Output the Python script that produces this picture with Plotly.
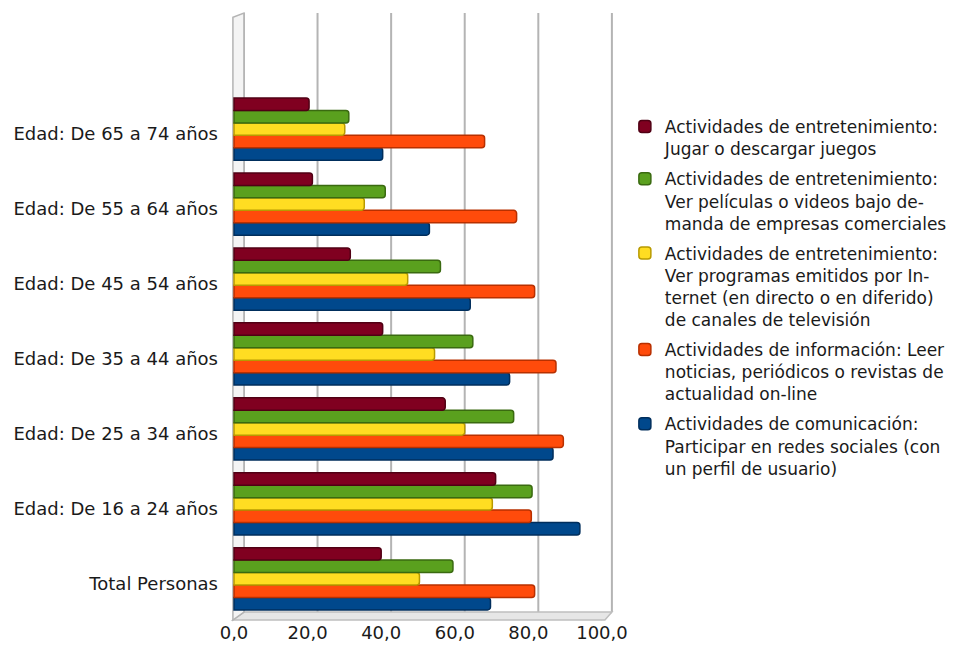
import plotly.graph_objects as go

categories = [
    "Total Personas",
    "Edad: De 16 a 24 años",
    "Edad: De 25 a 34 años",
    "Edad: De 35 a 44 años",
    "Edad: De 45 a 54 años",
    "Edad: De 55 a 64 años",
    "Edad: De 65 a 74 años",
]

juegos = [40.0, 71.1, 57.4, 40.4, 31.6, 21.3, 20.4]
peliculas = [59.5, 81.0, 76.0, 64.9, 56.1, 41.1, 31.2]
programas = [50.4, 70.2, 62.7, 54.5, 47.2, 35.4, 30.1]
informacion = [81.7, 80.8, 89.5, 87.5, 81.7, 76.8, 68.1]
redes = [69.7, 94.0, 86.7, 74.9, 64.2, 53.1, 40.4]

x_ticks = [0, 20, 40, 60, 80, 100]
x_tick_labels = ["0,0", "20,0", "40,0", "60,0", "80,0", "100,0"]

series = [
    ("Actividades de comunicación:<br>Participar en redes sociales (con<br>un perfil de usuario)",
     redes, "#00488C", "#002E5C"),
    ("Actividades de información: Leer<br>noticias, periódicos o revistas de<br>actualidad on-line",
     informacion, "#FF4B0B", "#B83000"),
    ("Actividades de entretenimiento:<br>Ver programas emitidos por In-<br>ternet (en directo o en diferido)<br>de canales de televisión",
     programas, "#FFDD22", "#B89A00"),
    ("Actividades de entretenimiento:<br>Ver películas o videos bajo de-<br>manda de empresas comerciales",
     peliculas, "#5AA01E", "#3A6A10"),
    ("Actividades de entretenimiento:<br>Jugar o descargar juegos",
     juegos, "#800020", "#500014"),
]

FONT = "DejaVu Sans, Verdana, sans-serif"

fig = go.Figure()
n = len(series)
for i, (name, vals, col, dark) in enumerate(series):
    fig.add_trace(go.Bar(
        y=categories, x=vals, name=name, orientation="h",
        marker=dict(color=col, line=dict(color=dark, width=1.5), cornerradius=3),
        legendgroup=f"g{i}", legendrank=1000 + (n - i) * 10,
    ))

# pseudo-3D frame: back wall gridlines shifted by depth, floor, left wall
depth = 2.7  # depth shift in axis units
back_y = 0.013
shapes = []
for t in x_ticks:
    shapes.append(dict(type="line", xref="x", yref="paper",
                       x0=t + depth, x1=t + depth, y0=back_y, y1=1.0,
                       line=dict(color="#B4B4B4", width=2), layer="below"))
    shapes.append(dict(type="line", xref="x", yref="paper",
                       x0=t - 0.3, x1=t + depth, y0=0, y1=back_y,
                       line=dict(color="#C8C8C8", width=1.5), layer="below"))
# floor
shapes.append(dict(type="path", xref="x", yref="paper",
                   path=f"M {-0.3},0 L {x_ticks[-1] + 0.8},0 L {x_ticks[-1] + depth},{back_y} L {depth},{back_y} Z",
                   fillcolor="#E6E6E6", line=dict(color="#BEBEBE", width=1.5), layer="below"))
# left wall
shapes.append(dict(type="path", xref="x", yref="paper",
                   path=f"M {-0.3},0 L {-0.3},0.993 L {depth},1.0 L {depth},{back_y} Z",
                   fillcolor="#F4F4F4", line=dict(color="#B4B4B4", width=1.5), layer="below"))

fig.update_layout(
    width=954, height=657,
    margin=dict(l=230, r=334, t=13, b=37, autoexpand=False),
    paper_bgcolor="white", plot_bgcolor="white",
    barmode="group", bargap=0.17, bargroupgap=0.0,
    font=dict(family=FONT, size=17, color="#1A1A1A"),
    shapes=shapes,
    xaxis=dict(range=[-1.09, 104.9], tickvals=x_ticks, ticktext=x_tick_labels,
               showgrid=False, zeroline=False, showline=False, ticks="",
               tickfont=dict(size=18), fixedrange=True, automargin=False),
    yaxis=dict(categoryorder="array", categoryarray=categories,
               range=[-0.55, 7.55], showgrid=False, zeroline=False, showline=False,
               ticks="", tickfont=dict(size=18), fixedrange=True,
               ticklabelstandoff=11, ticklabelshift=5, automargin=False),
    legend=dict(xref="container", yref="container", x=0.655, y=0.834,
                xanchor="left", yanchor="top", valign="top",
                traceorder="grouped", tracegroupgap=5, maxheight=1.0,
                font=dict(size=17), bgcolor="rgba(0,0,0,0)"),
    showlegend=True,
)

fig.write_html("out.html")
